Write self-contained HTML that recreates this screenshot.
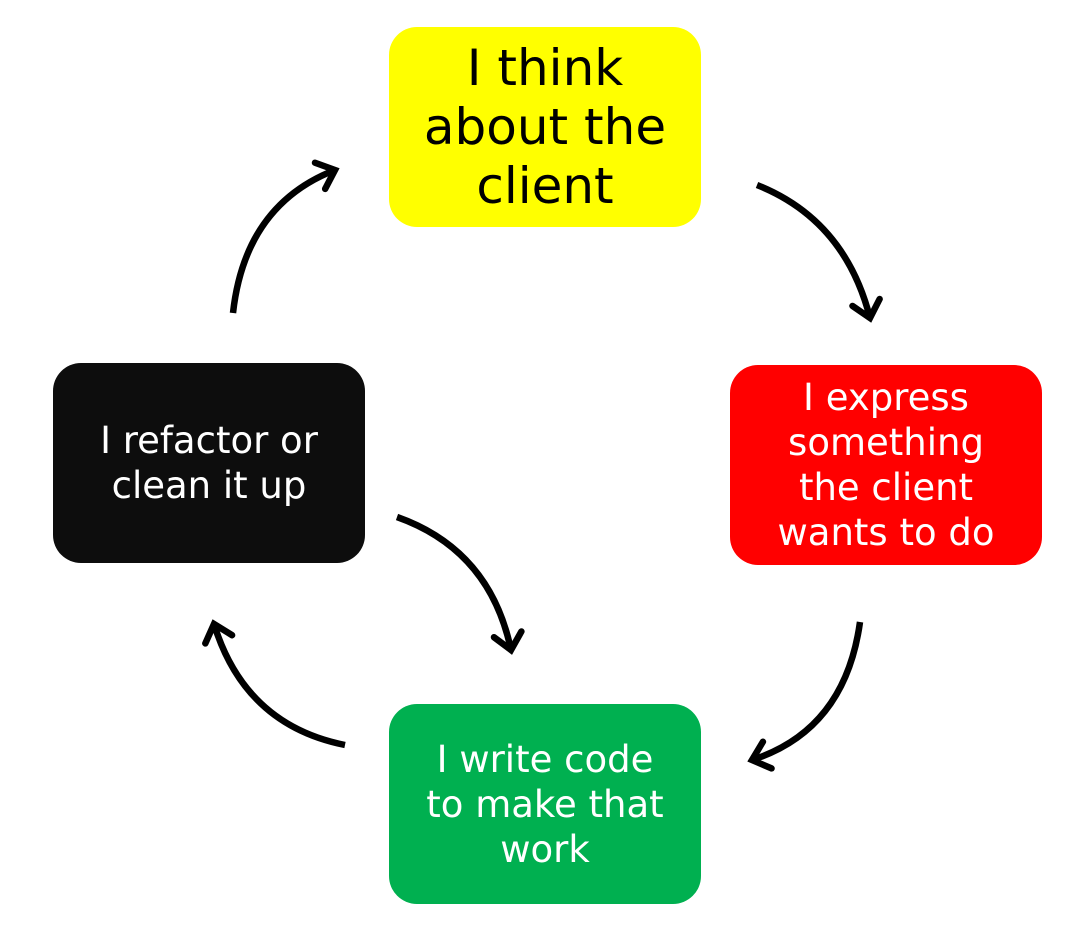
<!DOCTYPE html>
<html><head><meta charset="utf-8"><style>
html,body{margin:0;padding:0;background:#fff;}
body{width:1084px;height:934px;position:relative;overflow:hidden;font-family:"DejaVu Sans","Liberation Sans",sans-serif;}
.b{position:absolute;width:312px;height:200px;border-radius:28px;display:flex;align-items:center;justify-content:center;text-align:center;}
.s{font-size:37px;line-height:45px;color:#fff;}
</style></head><body>
<div class="b" style="left:389px;top:27px;background:#ffff00;color:#000;font-size:50px;line-height:59px;">I think<br>about the<br>client</div>
<div class="b s" style="left:730px;top:365px;background:#ff0000;">I express<br>something<br>the client<br>wants to do</div>
<div class="b s" style="left:53px;top:363px;background:#0d0d0d;">I refactor or<br>clean it up</div>
<div class="b s" style="left:389px;top:704px;background:#00b050;">I write code<br>to make that<br>work</div>
<svg width="1084" height="934" style="position:absolute;left:0;top:0">
<defs><marker id="a" markerUnits="userSpaceOnUse" markerWidth="40" markerHeight="40" refX="20" refY="20" orient="auto">
<polyline points="4,6 20,20 4,34" fill="none" stroke="#000" stroke-width="6.5" stroke-linecap="round" stroke-linejoin="miter"/></marker></defs>
<g fill="none" stroke="#000" stroke-width="6.5" stroke-linecap="butt">
<path d="M757,185 Q845,220 870,318" marker-end="url(#a)"/>
<path d="M860,622 Q845,730 752,760" marker-end="url(#a)"/>
<path d="M345,745 Q245,725 214,624" marker-end="url(#a)"/>
<path d="M233,313 Q245,205 335,170" marker-end="url(#a)"/>
<path d="M397,517 Q490,550 511,650" marker-end="url(#a)"/>
</g></svg>
</body></html>
